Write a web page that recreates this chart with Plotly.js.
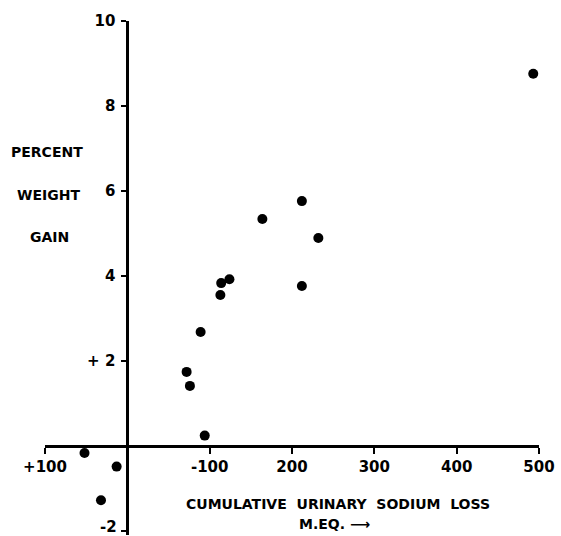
<!DOCTYPE html>
<html>
<head>
<meta charset="utf-8">
<script src="https://cdn.plot.ly/plotly-3.0.1.min.js"></script>
<style>html,body{margin:0;padding:0;background:#fff;}#chart{width:561px;height:536px;}</style>
</head>
<body>
<div id="chart"></div>
<script>
// Cumulative urinary sodium loss (mEq) vs percent weight gain
const sodiumLoss = [212, 164, 232, 124, 114, 113, 212, 89, 72, 76, 94, 493, -52, -13, -32];
const weightGain = [5.76, 5.34, 4.89, 3.92, 3.83, 3.55, 3.76, 2.68, 1.74, 1.41, 0.24, 8.76, -0.17, -0.49, -1.28];

const xTickVals = [-100, 100, 200, 300, 400, 500];
const xTickText = ["+100", "-100", "200", "300", "400", "500"];
const yTickVals = [-2, 2, 4, 6, 8, 10];
const yTickText = ["", "+ 2", "4", "6", "8", "10"];
const yBottomLabel = "-2";

const font = {family: "DejaVu Sans", size: 14, color: "#000", weight: "bold"};
const tickFont = {family: "DejaVu Sans", size: 15, color: "#000", weight: "bold"};

const trace = {
  x: sodiumLoss, y: weightGain, type: "scatter", mode: "markers",
  marker: {color: "#000", size: 10}, cliponaxis: false, hoverinfo: "skip"
};

const yLow = -2.1, yHigh = 10;

const layout = {
  width: 561, height: 536,
  margin: {l: 45, r: 22, t: 21, b: 1},
  paper_bgcolor: "#fff", plot_bgcolor: "#fff",
  showlegend: false,
  font: font,
  xaxis: {
    range: [-100, 500], anchor: "free", position: (0 - yLow) / (yHigh - yLow),
    showgrid: false, zeroline: false,
    showline: true, linecolor: "#000", linewidth: 3,
    ticks: "outside", ticklen: 6, tickwidth: 2, tickcolor: "#000",
    tickvals: xTickVals, ticktext: xTickText,
    tickfont: tickFont,
    ticklabelstandoff: 0
  },
  yaxis: {
    range: [yLow, yHigh], anchor: "free", position: 100/600,
    showgrid: false, zeroline: false,
    showline: true, linecolor: "#000", linewidth: 3,
    ticks: "outside", ticklen: 5, tickwidth: 2, tickcolor: "#000",
    tickvals: yTickVals, ticktext: yTickText,
    tickfont: tickFont,
    ticklabelstandoff: 3
  },
  annotations: [
    {text: yBottomLabel, xref: "paper", yref: "y", x: 100/600, y: yTickVals[0], xanchor: "right", yanchor: "middle", xshift: -8, yshift: 4, showarrow: false, font: tickFont},
    {text: "PERCENT", xref: "paper", yref: "paper", x: 0.004, y: 0.745, xanchor: "center", yanchor: "middle", showarrow: false, font: font},
    {text: "WEIGHT", xref: "paper", yref: "paper", x: 0.008, y: 0.661, xanchor: "center", yanchor: "middle", showarrow: false, font: font},
    {text: "GAIN", xref: "paper", yref: "paper", x: 0.010, y: 0.580, xanchor: "center", yanchor: "middle", showarrow: false, font: font},
    {text: "CUMULATIVE  URINARY  SODIUM  LOSS", xref: "paper", yref: "paper", x: 0.593, y: 0.060, xanchor: "center", yanchor: "middle", showarrow: false, font: font},
    {text: "M.EQ. ⟶", xref: "paper", yref: "paper", x: 0.587, y: 0.022, xanchor: "center", yanchor: "middle", showarrow: false, font: font}
  ]
};

Plotly.newPlot("chart", [trace], layout, {displayModeBar: false, staticPlot: true});
</script>
</body>
</html>
